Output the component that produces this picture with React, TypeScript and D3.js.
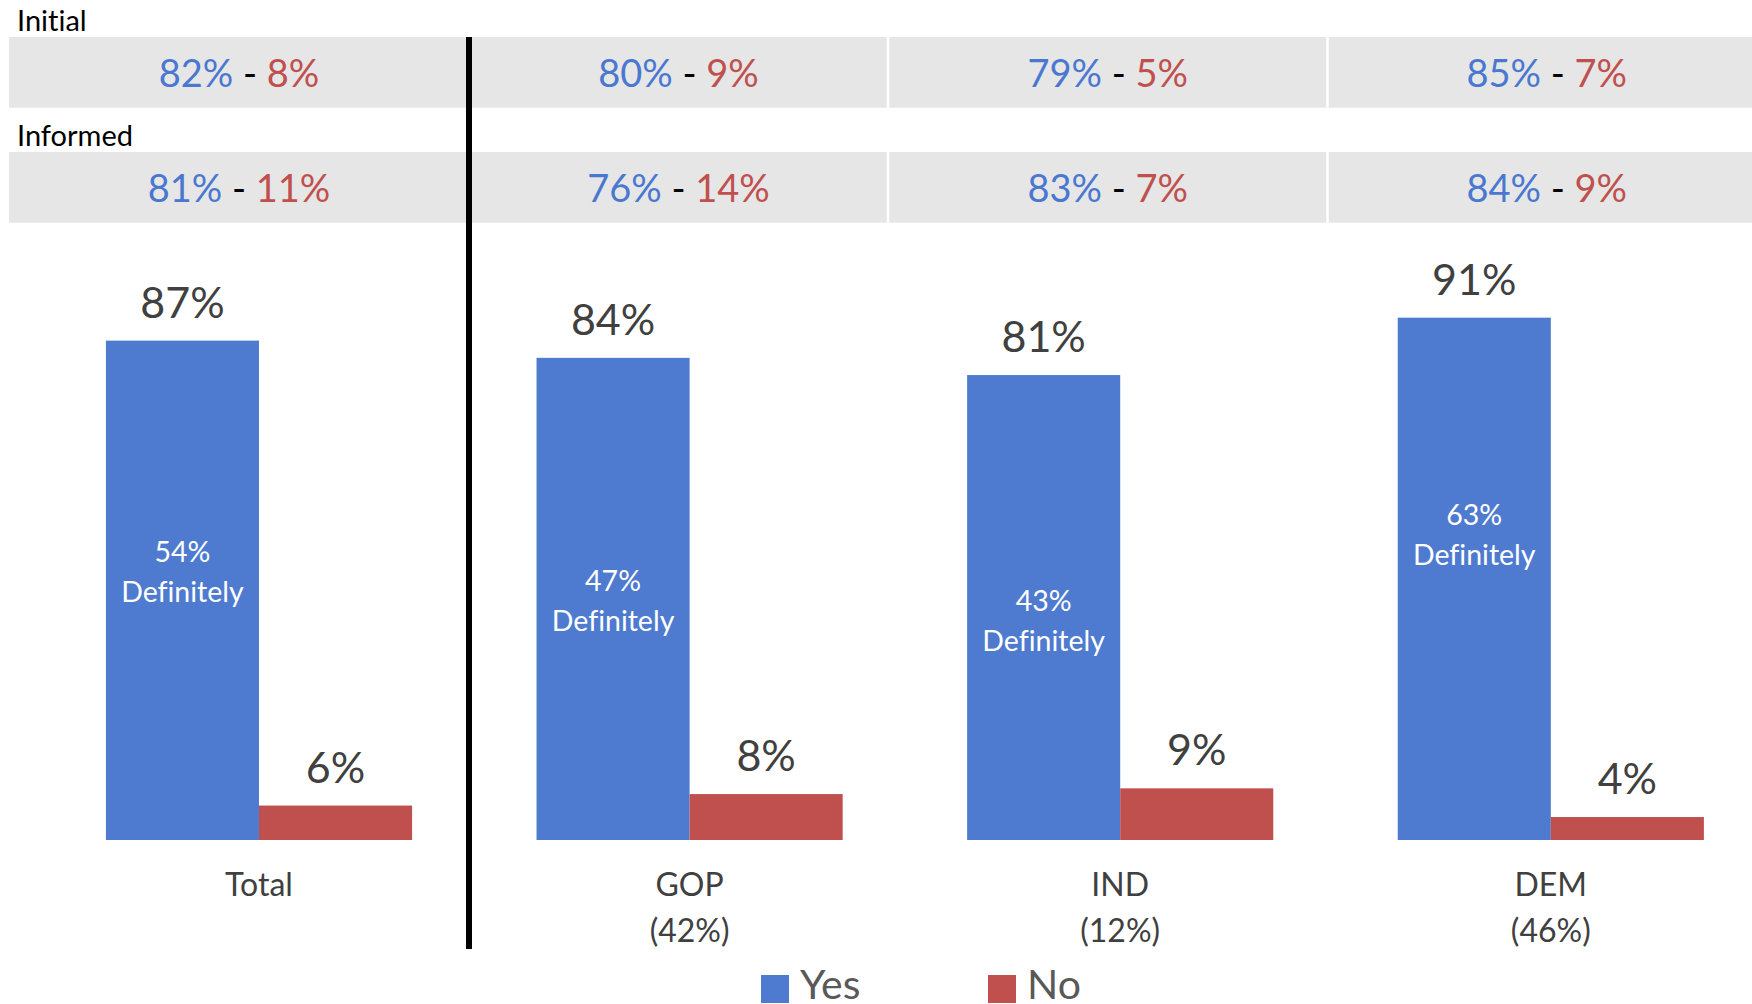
import * as d3 from "d3";
import { useEffect, useRef } from "react";

const categories = ["Total", "GOP", "IND", "DEM"];
const subLabels = ["", "(42%)", "(12%)", "(46%)"];
const series = ["Yes", "No"];
const yesValues = [87, 84, 81, 91];
const noValues = [6, 8, 9, 4];
const definitelyValues = [54, 47, 43, 63];
const initialYes = [82, 80, 79, 85];
const initialNo = [8, 9, 5, 7];
const informedYes = [81, 76, 83, 84];
const informedNo = [11, 14, 7, 9];

const BLUE = "#4e7bd0";
const RED = "#c0504d";
const FONT = "Lato, 'Open Sans', sans-serif";

const App = () => {
  const svgRef = useRef(null);
  const width = 1752;
  const height = 1004;

  useEffect(() => {
    const svg = d3.select(svgRef.current);
    svg.selectAll("*").remove();
    svg.style("font-variant-ligatures", "none");

    const baseline = 840;
    const y = d3.scaleLinear().domain([0, 100]).range([baseline, 266]);

    // group positions
    const x0 = d3
      .scaleBand()
      .domain(categories)
      .range([43.7, 1766.1])
      .paddingInner(0.289)
      .paddingOuter(0.1445);
    const x1 = d3.scaleBand().domain(series).range([0, x0.bandwidth()]);
    const center = (c) => x0(c) + x0.bandwidth() / 2;

    // table rows on top
    const colEdges = [9, 469, 888, 1327.5, 1766];
    const rows = [
      { label: "Initial", top: 37, yes: initialYes, no: initialNo },
      { label: "Informed", top: 152, yes: informedYes, no: informedNo },
    ];
    rows.forEach((r) => {
      svg
        .append("text")
        .attr("x", 17)
        .attr("y", r.top - 6.5)
        .attr("font-family", FONT)
        .attr("font-size", 29)
        .attr("fill", "#000")
        .text(r.label);
      svg
        .append("rect")
        .attr("x", colEdges[0])
        .attr("y", r.top)
        .attr("width", colEdges[4] - colEdges[0])
        .attr("height", 70.7)
        .attr("fill", "#e6e6e6");
      [888, 1327.5].forEach((sx) => {
        svg
          .append("rect")
          .attr("x", sx - 1.25)
          .attr("y", r.top)
          .attr("width", 2.5)
          .attr("height", 70.7)
          .attr("fill", "#fff");
      });
      categories.forEach((c, i) => {
        const t = svg
          .append("text")
          .attr("x", (colEdges[i] + colEdges[i + 1]) / 2)
          .attr("y", r.top + 50)
          .attr("text-anchor", "middle")
          .attr("font-family", FONT)
          .attr("font-size", 38);
        t.append("tspan").attr("fill", "#4a78d0").text(`${r.yes[i]}%`);
        t.append("tspan").attr("fill", "#000").text(" - ");
        t.append("tspan").attr("fill", RED).text(`${r.no[i]}%`);
      });
    });

    // divider
    svg
      .append("rect")
      .attr("x", 466)
      .attr("y", 37)
      .attr("width", 6)
      .attr("height", 912)
      .attr("fill", "#000");

    const data = categories.map((c, i) => ({
      cat: c,
      values: [
        { key: "Yes", v: yesValues[i] },
        { key: "No", v: noValues[i] },
      ],
    }));

    const groups = svg
      .selectAll(".grp")
      .data(data)
      .enter()
      .append("g")
      .attr("transform", (d) => `translate(${x0(d.cat)},0)`);

    groups
      .selectAll("rect")
      .data((d) => d.values)
      .enter()
      .append("rect")
      .attr("x", (d) => x1(d.key))
      .attr("y", (d) => y(d.v))
      .attr("width", x1.bandwidth())
      .attr("height", (d) => baseline - y(d.v))
      .attr("fill", (d) => (d.key === "Yes" ? BLUE : RED));

    groups
      .selectAll(".val")
      .data((d) => d.values)
      .enter()
      .append("text")
      .attr("x", (d) => x1(d.key) + x1.bandwidth() / 2)
      .attr("y", (d) => y(d.v) - 23)
      .attr("text-anchor", "middle")
      .attr("font-family", FONT)
      .attr("font-size", 43)
      .attr("fill", "#404040")
      .text((d) => `${d.v}%`);

    // "Definitely" labels inside the Yes bars
    categories.forEach((c, i) => {
      const cx = x0(c) + x1("Yes") + x1.bandwidth() / 2;
      const mid = y((yesValues[i] + definitelyValues[i]) / 2 - 24);
      const t = svg
        .append("text")
        .attr("text-anchor", "middle")
        .attr("font-family", FONT)
        .attr("font-size", 28.5)
        .attr("fill", "#fff");
      t.append("tspan").attr("x", cx).attr("y", mid - 11).text(`${definitelyValues[i]}%`);
      t.append("tspan").attr("x", cx).attr("y", mid + 29).text("Definitely");
    });

    // category labels
    categories.forEach((c, i) => {
      svg
        .append("text")
        .attr("x", center(c))
        .attr("y", 896)
        .attr("text-anchor", "middle")
        .attr("font-family", FONT)
        .attr("font-size", 32)
        .attr("fill", "#404040")
        .text(c);
      if (subLabels[i]) {
        svg
          .append("text")
          .attr("x", center(c))
          .attr("y", 942)
          .attr("text-anchor", "middle")
          .attr("font-family", FONT)
          .attr("font-size", 32)
          .attr("fill", "#404040")
          .text(subLabels[i]);
      }
    });

    // legend
    const legend = [
      { key: "Yes", x: 761, color: BLUE },
      { key: "No", x: 988, color: RED },
    ];
    legend.forEach((l) => {
      svg
        .append("rect")
        .attr("x", l.x)
        .attr("y", 975)
        .attr("width", 28)
        .attr("height", 28)
        .attr("fill", l.color);
      svg
        .append("text")
        .attr("x", l.x + 39)
        .attr("y", 999)
        .attr("font-family", FONT)
        .attr("font-size", 41)
        .attr("fill", "#595959")
        .text(l.key);
    });
  }, []);

  return (
    <div style={{ position: "absolute", left: 0, top: 0 }}>
      <svg ref={svgRef} width={width} height={height} style={{ display: "block", background: "#fff" }}></svg>
    </div>
  );
};

export default App;
